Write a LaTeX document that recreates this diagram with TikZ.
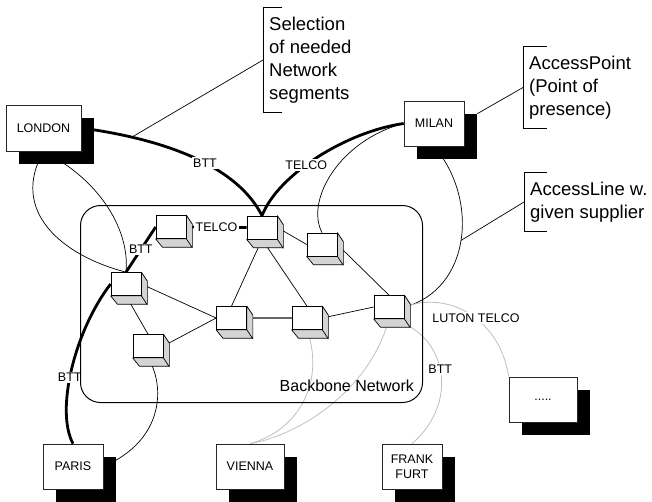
\documentclass[tikz,border=0pt]{standalone}
\usepackage{fontspec}
\setmainfont{Liberation Sans}
\usetikzlibrary{shadows,backgrounds,calc}

\begin{document}
\begin{tikzpicture}[x=1pt, y=-1pt,
		city/.style={draw=black!85, fill=white, line width=0.7pt, minimum width=60pt, minimum height=45pt, inner sep=1pt,
			font=\fontsize{12.5}{15}\selectfont, align=center,
			general shadow={fill=black, shadow xshift=13pt, shadow yshift=-13pt}},
		router/.style={draw, fill=white, line width=0.7pt, minimum width=30pt, minimum height=23pt, inner sep=0pt,
			append after command={\pgfextra{\draw[fill=black!17, line width=0.7pt, line join=round]
				(\tikzlastnode.north east) -- ++(6,9) -- ++(0,23) -- ++(-30,0) -- (\tikzlastnode.south west)
				-- (\tikzlastnode.south east) -- cycle (\tikzlastnode.south east) -- ++(6,9);}}},
		callout/.style={font=\fontsize{18.5}{23}\selectfont, align=left, inner xsep=6pt, inner ysep=0pt, anchor=west},
		link/.style={line width=0.7pt},
		supplier/.style={line width=2.8pt},
		spare/.style={black!25, line width=0.8pt},
		lbl/.style={fill=white, inner sep=1.5pt, font=\fontsize{12.5}{14}\selectfont, text=black}
		]
	\useasboundingbox (0,0) rectangle (652,501);

	% backbone
	\node[draw=black, line width=1pt, rounded corners=20pt, inner sep=0pt, outer sep=0pt,
		minimum width=342pt, minimum height=197pt] (backbone) at (251.5,304) {};
	\node[anchor=base east, font=\fontsize{16}{18}\selectfont] (bbname) at ([shift={(-5pt,11pt)}]backbone.south east) {Backbone Network};

	\node[router] (rTL) at (171,227) {};
	\node[router] (rHub) at (262,227.5) {};
	\node[router] (rR1) at (322,244.5) {};
	\node[router] (rBL) at (126,284) {};
	\node[router] (rLL) at (148,346) {};
	\node[router] (rM1) at (231.5,318) {};
	\node[router] (rM2) at (307,318) {};
	\node[router] (rR2) at (389,307) {};

	% access points
	\node[city, minimum width=75pt, minimum height=46pt] (london) at (43.5,128) {LONDON};
	\node[city] (milan) at (434,123.5) {MILAN};
	\node[city] (paris) at (73,466.5) {PARIS};
	\node[city, minimum width=68pt] (vienna) at (250,466.5) {VIENNA};
	\node[city] (frank) at (412,466.5) {FRANK\\FURT};
	\node[city, minimum width=68pt] (more) at (543,399.5) {.....};

	% callouts
	\node[callout, minimum height=104pt] (sel) at (263,60) {Selection\\of needed\\Network\\segments};
	\node[callout, minimum height=81pt] (ap) at (523,87.5) {AccessPoint\\(Point of\\presence)};
	\node[callout, minimum height=58pt] (al) at (524,202) {AccessLine w.\\given supplier};
	\draw[link] ([xshift=19pt]sel.north west) -- (sel.north west) -- (sel.south west) -- ([xshift=19pt]sel.south west);
	\draw[link] ([xshift=24pt]ap.north west) -- (ap.north west) -- (ap.south west) -- ([xshift=24pt]ap.south west);
	\draw[link] ([xshift=23pt]al.north west) -- (al.north west) -- (al.south west) -- ([xshift=23pt]al.south west);

	\begin{scope}[on background layer]
		\draw[link] (rHub.east) -- (rR1.west);
		\draw[link] (rR1.east) -- (rR2.north);
		\draw[link] (rHub.south) -- (rM1.north);
		\draw[link] (rHub.south) -- (rM2.north);
		\draw[black!60, line width=1.4pt] (rM1.east) -- (rM2.west);
		\draw[link] (rM2.east) -- (rR2.west);
		\draw[link] (rBL.east) -- (rM1.west);
		\draw[link] (rLL.east) -- (rM1.west);
		\draw[link] (rBL.south) -- (rLL.north);

		% selected segments
		\draw[supplier] (london.east) .. controls (170,140) and (238,168) .. (rHub.north)
			node[lbl, pos=0.55] {BTT} coordinate[pos=0.2] (selpt);
		\draw[supplier] (milan.west) .. controls (345,132) and (278,175) .. (rHub.north)
			node[lbl, pos=0.57] {TELCO};
		\draw[supplier] (paris.north) .. controls (55,410) and (75,330) .. (rBL.west)
			node[lbl, pos=0.45] {BTT};
		\draw[supplier] (rBL.north) -- (rTL.west) node[lbl, midway] {BTT};
		\draw[supplier] (rTL.east) -- (rHub.west) node[lbl, midway] {TELCO};

		% access lines
		\draw[link] (london.south) .. controls (10,210) and (60,255) .. (rBL.north);
		\draw[link] (london.south) .. controls (100,180) and (130,230) .. (rBL.north);
		\draw[link] (paris.east) .. controls (165,440) and (165,385) .. (rLL.south);
		\draw[link] (milan.west) .. controls (340,140) and (305,200) .. (rR1.north);
		\draw[link] (milan.south) .. controls (480,200) and (470,290) .. (rR2.east) coordinate[pos=0.5] (alpt);

		% other suppliers
		\draw[spare] (rM2.south) .. controls (325,380) and (300,430) .. (vienna.north);
		\draw[spare] (rR2.south) .. controls (370,390) and (300,435) .. (vienna.north);
		\draw[spare] (rR2.south) .. controls (445,330) and (462,400) .. (frank.north)
			node[lbl, pos=0.5] {BTT};
		\draw[spare] (rR2.east) .. controls (450,290) and (500,320) .. (more.north west)
			node[lbl, pos=0.55] {LUTON TELCO};

		\draw[link] (sel.west) -- (selpt);
		\draw[link] (ap.west) -- ([shift={(13pt,-13pt)}]milan.north east);
		\draw[link] (al.west) -- (alpt);
	\end{scope}
\end{tikzpicture}
\end{document}
